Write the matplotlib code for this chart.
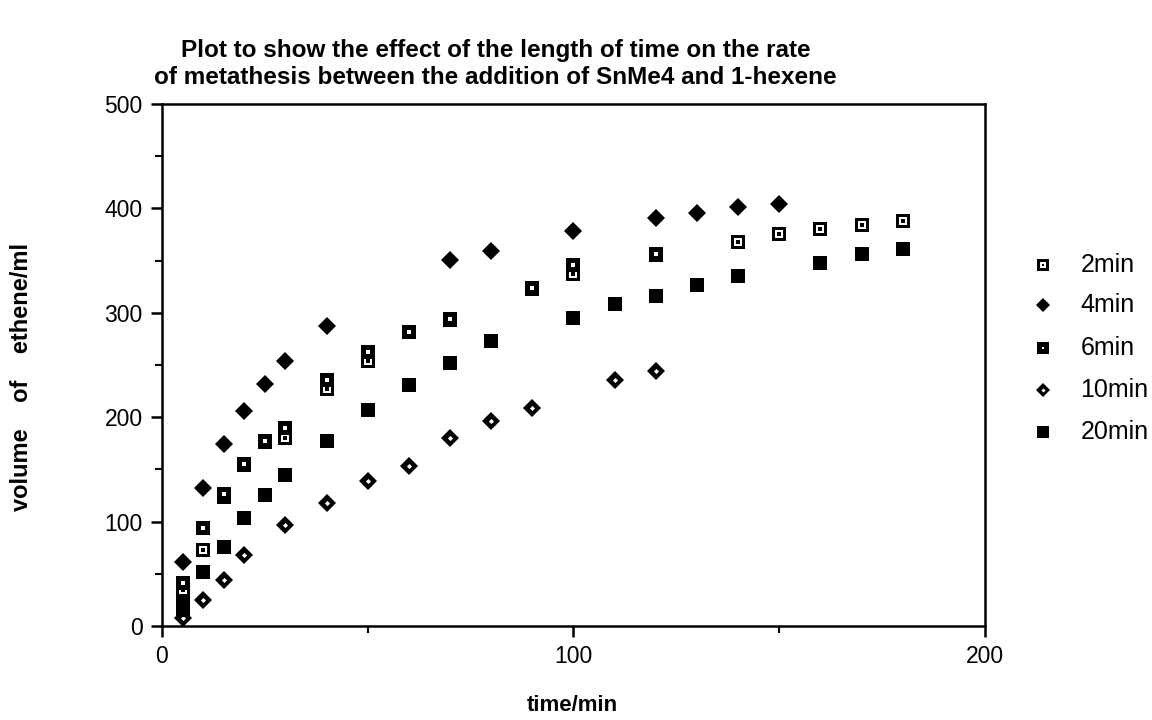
import matplotlib
matplotlib.use("Agg")
import matplotlib.pyplot as plt
from matplotlib.ticker import MultipleLocator

# values
t_2min = [5, 10, 15, 20, 25, 30, 40, 50, 60, 70, 90, 100, 120, 140, 150, 160, 170, 180]
v_2min = [34, 73, 124, 154, 176, 180, 227, 254, 282, 293, 323, 337, 355, 368, 375, 380, 384, 388]

t_4min = [5, 10, 15, 20, 25, 30, 40, 70, 80, 100, 120, 130, 140, 150]
v_4min = [61, 132, 174, 206, 232, 254, 287, 351, 359, 378, 391, 396, 401, 404]

t_6min = [5, 10, 15, 20, 25, 30, 40, 50, 60, 70, 90, 100, 120]
v_6min = [41, 94, 126, 155, 177, 190, 236, 262, 282, 294, 324, 346, 356]

t_10min = [5, 10, 15, 20, 30, 40, 50, 60, 70, 80, 90, 110, 120]
v_10min = [8, 25, 44, 68, 97, 118, 139, 153, 180, 196, 209, 236, 244]

t_20min = [5, 5, 10, 15, 20, 25, 30, 40, 50, 60, 70, 80, 100, 110, 120, 130, 140, 160, 170, 180]
v_20min = [15, 22, 52, 76, 103, 125, 145, 177, 207, 231, 252, 273, 295, 308, 316, 327, 335, 348, 356, 361]

labels = ['2min', '4min', '6min', '10min', '20min']

plt.rcParams['font.family'] = ['Liberation Sans', 'DejaVu Sans']

# marker styles, built up from stacked layers (marker, size, colour)
styles = {
    '2min': [('s', 10, 'black'), ('s', 6, 'white'), ('s', 2.6, 'black')],
    '4min': [('D', 9.3, 'black')],
    '6min': [('s', 10, 'black'), ('s', 2.6, 'white')],
    '10min': [('D', 9.3, 'black'), ('D', 2.6, 'white')],
    '20min': [('s', 10, 'black')],
}


def draw(target, x, y, lab, scale=1.0, **kw):
    for m, s, c in styles[lab]:
        target.plot(x, y, ls='none', marker=m, ms=s * scale, mfc=c, mec=c, mew=0, **kw)


fig = plt.figure(figsize=(11.52, 7.2), dpi=100)
ax = fig.add_axes([0.1406, 0.1306, 0.7144, 0.725])

series = [(t_2min, v_2min), (t_4min, v_4min), (t_6min, v_6min),
          (t_10min, v_10min), (t_20min, v_20min)]
for lab, (t, v) in zip(labels, series):
    draw(ax, t, v, lab)

ax.set_xlim(0, 200)
ax.set_ylim(0, 500)
ax.xaxis.set_major_locator(MultipleLocator(100))
ax.xaxis.set_minor_locator(MultipleLocator(50))
ax.yaxis.set_major_locator(MultipleLocator(100))
ax.yaxis.set_minor_locator(MultipleLocator(50))
ax.tick_params(which='major', direction='out', length=8, width=1.8, labelsize=16.5, pad=6)
ax.tick_params(which='minor', direction='out', length=5, width=1.5)
for s in ax.spines.values():
    s.set_linewidth(1.8)

# legend to the right of the box
leg_y = [0.632, 0.576, 0.517, 0.458, 0.400]
lax = fig.add_axes([0, 0, 1, 1], facecolor='none')
lax.set_xlim(0, 1)
lax.set_ylim(0, 1)
lax.axis('off')
for lab, yy in zip(labels, leg_y):
    draw(lax, [0.905], [yy], lab, scale=0.8)
    lax.text(0.938, yy, lab, fontsize=18, va='center', ha='left')

fig.text(0.43, 0.93, 'Plot to show the effect of the length of time on the rate',
         fontsize=17.5, fontweight='bold', ha='center', va='center')
fig.text(0.43, 0.892, 'of metathesis between the addition of SnMe4 and 1-hexene',
         fontsize=17.5, fontweight='bold', ha='center', va='center')

fig.text(0.019, 0.476, 'volume    of    ethene/ml', rotation=90, fontsize=17,
         fontweight='bold', ha='center', va='center')
fig.text(0.497, 0.02, 'time/min', fontsize=16, fontweight='bold', ha='center', va='center')

fig.savefig('out.png', dpi=100)
